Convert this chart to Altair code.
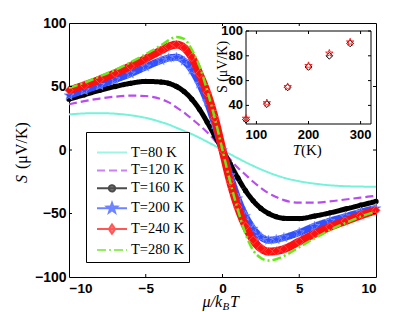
import math
import altair as alt
import pandas as pd

# ---------------- data ----------------
mu = [-10, -9, -8, -7, -6, -5, -4, -3.5, -3, -2.5, -2, -1.5, -1, -0.5, 0,
      0.5, 1, 1.5, 2, 2.5, 3, 3.5, 4, 5, 6, 7, 8, 9, 10]

s_80 = [28, 28.8, 29, 28.6, 27.4, 25.3, 22, 20, 17.5, 15, 12.5, 9.6, 6.5, 3.3, 0,
        -3.3, -6.5, -9.6, -12.5, -15.2, -17.7, -19.9, -21.8, -24.6, -26.5, -27.8, -28.5, -28.8, -29]
s_120 = [36, 38.5, 40.5, 42, 42.8, 42.5, 40, 37.5, 33.5, 29.5, 24.5, 19.5, 14, 7.5, 0,
         -7.5, -14, -19.5, -25, -29.8, -34, -37, -39.5, -41.5, -41.5, -40.5, -39, -37.5, -36]
s_160 = [40, 43.5, 47, 50, 52.5, 54, 53.5, 52.5, 50, 46, 40, 32, 22, 11, 0,
         -11, -22, -32, -40, -46, -50, -52.5, -53.8, -54, -52, -49.5, -46.5, -43.5, -40.5]
s_200 = [43, 47, 51, 55.5, 60, 65.5, 70.5, 72.5, 73, 70, 63, 52, 38, 20, 0,
         -20, -38, -52, -62, -68.5, -71, -70.5, -69, -65, -60, -56, -52.5, -49, -46]
s_240 = [47, 51, 55.5, 60.5, 66, 72, 78.5, 81.5, 83, 80.5, 73, 60, 45, 25, 0,
         -25, -45, -60, -71, -77.5, -80, -79.5, -78, -72, -66, -60.5, -56, -51.5, -47.5]
s_280 = [49, 53, 58, 63, 69, 75.5, 82.5, 86.5, 89, 87.5, 79, 66, 47, 25, 0,
         -25, -47, -66, -79, -85, -87, -86, -83.5, -76.5, -69.5, -63, -57.5, -52.5, -48.5]

series_names = ["T=80 K", "T=120 K", "T=160 K", "T=200 K", "T=240 K", "T=280 K"]
series_values = [s_80, s_120, s_160, s_200, s_240, s_280]
colors = ["#74f2da", "#b84cf0", "#000000", "#3050ff", "#ff1010", "#66e81a"]

inset_T = [80, 120, 160, 200, 240, 280]
inset_S_diamond = [28.5, 41, 54.5, 71, 80, 90]
inset_S_star = [29.5, 42, 55, 72, 82, 91]

x_ticks = [-10, -5, 0, 5, 10]
y_ticks = [-100, -50, 0, 50, 100]
inner_x_ticks = [-5, 0, 5]
inner_y_ticks = [-50, 0, 50]
inset_x_ticks = [100, 200, 300]
inset_y_ticks = [40, 60, 80, 100]

# ---------------- layout / style ----------------
W, H = 307, 254
IX0, IX1, IY0, IY1 = 177, 302, 8, 101   # inset box in plot pixels
SANS = "Liberation Sans"
SERIF = "Liberation Serif"


def star_path(ro, ri):
    pts = []
    for k in range(10):
        a = -math.pi / 2 + k * math.pi / 5
        r = ro if k % 2 == 0 else ri
        pts.append(f"{r * math.cos(a):.3f},{r * math.sin(a):.3f}")
    return "M" + "L".join(pts) + "Z"


STAR = star_path(1.0, 0.4)

xs = alt.Scale(domain=[-10, 10], nice=False, zero=False)
ys = alt.Scale(domain=[-100, 100], nice=False, zero=False)
x_axis = alt.Axis(values=x_ticks, title=None, ticks=False, domain=False, grid=False, orient="bottom",
                  labelFont=SANS, labelFontWeight="bold", labelFontSize=13.5,
                  labelPadding=4, labelColor="black", format="d")
y_axis = alt.Axis(values=y_ticks, title=None, ticks=False, domain=False, grid=False, orient="left",
                  labelFont=SANS, labelFontWeight="bold", labelFontSize=14,
                  labelPadding=3, labelColor="black", format="d")


def X(field="mu"):
    return alt.X(f"{field}:Q", scale=xs, axis=x_axis)


def Y(field="S"):
    return alt.Y(f"{field}:Q", scale=ys, axis=y_axis)


rows = []
for name, vals in zip(series_names, series_values):
    for m, s in zip(mu, vals):
        rows.append({"series": name, "mu": m, "S": s})
df = pd.DataFrame(rows)

widths = [2, 2.2, 5, 7, 8, 2.5]
dashes = [[1, 0], [8, 4], [1, 0], [1, 0], [1, 0], [9, 3, 2, 3]]

main_layers = []
for i, name in enumerate(series_names):
    sub = df[df.series == name]
    line = alt.Chart(sub).mark_line(
        interpolate="monotone", color=colors[i], strokeWidth=widths[i],
        strokeDash=dashes[i]).encode(x=X(), y=Y())
    main_layers.append(line)
    if name == "T=160 K":
        main_layers.append(alt.Chart(sub).mark_point(
            shape="circle", filled=True, color=colors[i], size=28, opacity=1).encode(x=X(), y=Y()))
    if name == "T=200 K":
        main_layers.append(alt.Chart(sub).mark_point(
            shape=STAR, filled=True, fill=colors[i], stroke="#9aa8ff", strokeWidth=0.6,
            size=110, opacity=1).encode(x=X(), y=Y()))
    if name == "T=240 K":
        main_layers.append(alt.Chart(sub).mark_point(
            shape="diamond", filled=True, fill=colors[i], stroke="#ff7070", strokeWidth=0.6,
            size=70, opacity=1).encode(x=X(), y=Y()))

# inward ticks on the main frame
xt = pd.DataFrame({"mu": inner_x_ticks})
yt = pd.DataFrame({"S": inner_y_ticks})
tick_style = dict(color="black", strokeWidth=1)
main_layers += [
    alt.Chart(xt).mark_rule(**tick_style).encode(x=X(), y=alt.value(H), y2=alt.value(H - 3)),
    alt.Chart(xt).mark_rule(**tick_style).encode(x=X(), y=alt.value(0), y2=alt.value(3)),
    alt.Chart(yt).mark_rule(**tick_style).encode(y=Y(), x=alt.value(0), x2=alt.value(3)),
    alt.Chart(yt).mark_rule(**tick_style).encode(y=Y(), x=alt.value(W), x2=alt.value(W - 3)),
]

# legend symbols (line with marker)
LINE = "M-2,0L2,0"
shapes = [
    LINE,
    LINE,
    LINE + "M-0.42,0A0.42,0.42,0,1,0,0.42,0A0.42,0.42,0,1,0,-0.42,0Z",
    LINE + star_path(0.7, 0.28),
    LINE + "M0,-0.62L0.42,0L0,0.62L-0.42,0Z",
    LINE,
]
leg = alt.Legend(title="\u00a0", titleFontSize=7, titlePadding=0, orient="none",
                 legendX=17, legendY=109, strokeColor="black", fillColor="white",
                 padding=5, symbolSize=225, symbolStrokeWidth=2,
                 labelFont=SERIF, labelFontSize=14.5, labelColor="black",
                 rowPadding=2.9, symbolOffset=12.5, labelOffset=10.5,
                 cornerRadius=0, direction="vertical", columns=1)
leg_df = pd.DataFrame({"series": series_names, "mu": [0] * 6, "S": [0] * 6})
legend_layer = alt.Chart(leg_df).transform_filter("false").mark_point(
    filled=True, strokeWidth=2).encode(
    x=X(), y=Y(),
    fill=alt.Fill("series:N", scale=alt.Scale(domain=series_names, range=colors), legend=leg),
    stroke=alt.Stroke("series:N", scale=alt.Scale(domain=series_names, range=colors), legend=leg),
    shape=alt.Shape("series:N", scale=alt.Scale(domain=series_names, range=shapes), legend=leg),
    strokeDash=alt.StrokeDash("series:N", scale=alt.Scale(domain=series_names, range=dashes), legend=leg),
)
main_layers.append(legend_layer)

# axis titles
main_layers += [
    alt.Chart(pd.DataFrame({"t": ["μ/k"]})).mark_text(
        font=SERIF, fontStyle="italic", fontSize=16, align="right", baseline="alphabetic",
        color="black").encode(text="t:N", x=alt.value(153), y=alt.value(284)),
    alt.Chart(pd.DataFrame({"t": ["B"]})).mark_text(
        font=SERIF, fontStyle="italic", fontSize=11, align="left", baseline="alphabetic",
        color="black").encode(text="t:N", x=alt.value(153.5), y=alt.value(287)),
    alt.Chart(pd.DataFrame({"t": ["T"]})).mark_text(
        font=SERIF, fontStyle="italic", fontSize=16, align="left", baseline="alphabetic",
        color="black").encode(text="t:N", x=alt.value(161), y=alt.value(284)),
    alt.Chart(pd.DataFrame({"t": ["S"]})).mark_text(
        font=SERIF, fontStyle="italic", fontSize=16, align="left", baseline="middle", angle=270,
        color="black").encode(text="t:N", x=alt.value(-47), y=alt.value(160)),
    alt.Chart(pd.DataFrame({"t": ["(μV/K)"]})).mark_text(
        font=SERIF, fontSize=16, align="left", baseline="middle", angle=270,
        color="black").encode(text="t:N", x=alt.value(-47), y=alt.value(146)),
]

main = alt.layer(*main_layers)

# ---------------- inset ----------------
ixs = alt.Scale(domain=[80, 320], range=[IX0, IX1], nice=False, zero=False)
iys = alt.Scale(domain=[25, 100], range=[IY1, IY0], nice=False, zero=False)


def IX(field="T"):
    return alt.X(f"{field}:Q", scale=ixs, axis=None)


def IY(field="S"):
    return alt.Y(f"{field}:Q", scale=iys, axis=None)


box = alt.Chart(pd.DataFrame({"T": [80], "T2": [320], "S": [25], "S2": [100]})).mark_rect(
    fill="white", stroke="black", strokeWidth=1).encode(
    x=IX(), x2="T2:Q", y=IY(), y2="S2:Q")
inset_df = pd.DataFrame({"T": inset_T, "Sd": inset_S_diamond, "Ss": inset_S_star})
diam = alt.Chart(inset_df).mark_point(shape="diamond", filled=False, color="black",
                                      strokeWidth=1, size=45, opacity=1).encode(x=IX(), y=IY("Sd"))
star = alt.Chart(inset_df).mark_point(shape=STAR, filled=False, color="#ff2020",
                                      strokeWidth=1, size=60, opacity=1).encode(x=IX(), y=IY("Ss"))
ixt = pd.DataFrame({"T": inset_x_ticks, "lab": [str(v) for v in inset_x_ticks]})
iyt = pd.DataFrame({"S": inset_y_ticks, "lab": [str(v) for v in inset_y_ticks]})
inset_layers = [
    box,
    alt.Chart(ixt).mark_rule(**tick_style).encode(x=IX(), y=alt.value(IY1), y2=alt.value(IY1 - 3)),
    alt.Chart(ixt).mark_rule(**tick_style).encode(x=IX(), y=alt.value(IY0), y2=alt.value(IY0 + 3)),
    alt.Chart(iyt).mark_rule(**tick_style).encode(y=IY(), x=alt.value(IX0), x2=alt.value(IX0 + 3)),
    alt.Chart(iyt).mark_rule(**tick_style).encode(y=IY(), x=alt.value(IX1), x2=alt.value(IX1 - 3)),
    diam, star,
    alt.Chart(ixt).mark_text(font=SANS, fontWeight="bold", fontSize=13, align="center",
                             baseline="top", dy=5, color="black").encode(
        x=IX(), y=alt.value(IY1), text="lab:N"),
    alt.Chart(iyt).mark_text(font=SANS, fontWeight="bold", fontSize=13, align="right",
                             baseline="middle", dx=-3, color="black").encode(
        y=IY(), x=alt.value(IX0), text="lab:N"),
    alt.Chart(pd.DataFrame({"t": ["T"]})).mark_text(
        font=SERIF, fontStyle="italic", fontSize=15, align="right", baseline="alphabetic",
        color="black").encode(text="t:N", x=alt.value(232), y=alt.value(132)),
    alt.Chart(pd.DataFrame({"t": ["(K)"]})).mark_text(
        font=SERIF, fontSize=15, align="left", baseline="alphabetic",
        color="black").encode(text="t:N", x=alt.value(232), y=alt.value(132)),
    alt.Chart(pd.DataFrame({"t": ["S (μV/K)"]})).mark_text(
        font=SERIF, fontSize=14, align="center", baseline="middle", angle=270,
        color="black").encode(text="t:N", x=alt.value(154), y=alt.value(44)),
]
inset = alt.layer(*inset_layers)

chart = alt.layer(main, inset).resolve_scale(
    x="independent", y="independent"
).properties(
    width=W, height=H,
    padding={"left": 61, "top": 15, "right": 30, "bottom": 35},
    autosize=alt.AutoSizeParams(type="none"),
    background="white",
).configure_view(stroke="black", strokeWidth=1)

chart.save("out.html", embed_options={"renderer": "svg", "actions": False})
